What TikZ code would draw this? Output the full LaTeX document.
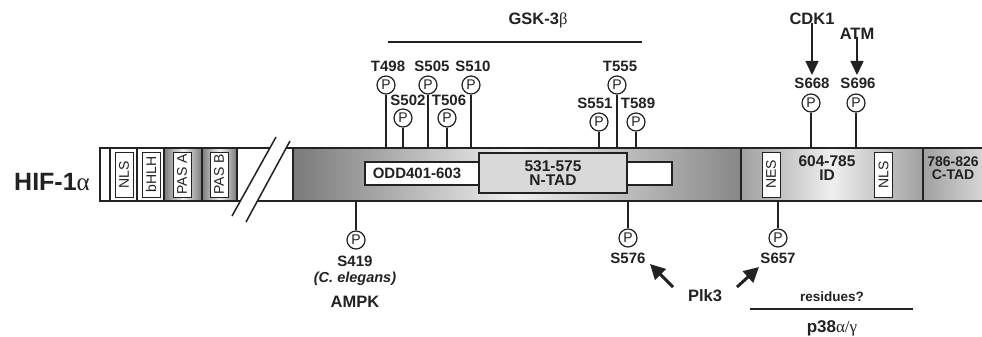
\documentclass[tikz,border=0pt]{standalone}
\usepackage{fontspec}
\setmainfont{Liberation Sans}
\newfontfamily\grk{Liberation Serif}
\usetikzlibrary{arrows.meta}
\definecolor{gdark}{HTML}{7A7A7A}
\definecolor{gmid}{HTML}{A0A0A0}
\definecolor{glight}{HTML}{EFEFEF}
\definecolor{ntad}{HTML}{D9D9D9}
\definecolor{ink}{HTML}{222222}
\tikzset{
  lbl/.style={font=\bfseries\fontsize{15}{15}\selectfont, inner sep=0pt, text=ink},
  kin/.style={font=\bfseries\fontsize{16.5}{17}\selectfont, inner sep=0pt, text=ink},
  pc/.style={circle, draw=ink, line width=1.2pt, minimum size=18pt, inner sep=0pt, font=\fontsize{14}{14}\selectfont, fill=white, text=ink},
  stem/.style={line width=1.5pt, draw=ink},
  barline/.style={line width=2pt, draw=ink},
  sep/.style={line width=1.8pt, draw=ink},
  vbox/.style={draw=ink, line width=0.8pt, fill=white, minimum width=18pt, minimum height=45pt, inner sep=0pt},
  vtxt/.style={font=\fontsize{14}{14}\selectfont, rotate=90, text=ink},
  kinarrow/.style={line width=1.5pt, draw=ink, -{Triangle[length=14pt,width=13pt]}},
  plkarrow/.style={line width=3pt, draw=ink, -{Triangle[length=15pt,width=15pt]}},
}
\begin{document}
\begin{tikzpicture}[x=1pt,y=-1pt]
\useasboundingbox (0,0) rectangle (982,337);
\clip (0,0) rectangle (982,337);
\fill[white] (0,0) rectangle (982,337);

% title
\node[font=\bfseries\fontsize{25}{25}\selectfont, inner sep=0pt, text=ink] (hif) at (52,182) {HIF-1{\grk\mdseries α}};

% left bar
\fill[white] (100,148) rectangle (293,201);
\shade[left color=gdark, right color=gdark, middle color=glight] (164,148) rectangle (202,201);
\shade[left color=gdark, right color=gdark, middle color=glight] (202,148) rectangle (237,201);
\foreach \xx in {110,137,164,202,237} \draw[sep] (\xx,148) -- (\xx,201);
\node[vbox] (nlsA) at (124,174.5) {};
\node[vtxt] (tnlsA) at (nlsA) {NLS};
\node[vbox] (bhlh) at (151,174.5) {};
\node[vtxt] (tbhlh) at (bhlh) {bHLH};
\node[vbox] (pasa) at (182,174.5) {};
\node[vtxt] (tpasa) at (pasa) {PAS A};
\node[vbox] (pasb) at (219,174.5) {};
\node[vtxt] (tpasb) at (pasb) {PAS B};
\draw[barline] (100,148) -- (293,148);
\draw[barline] (100,201) -- (293,201);
\draw[barline] (100,147) -- (100,202);
% break
\fill[white] (232,216) -- (276,137) -- (290,140) -- (246,221) -- cycle;
\draw[line width=1.5pt, draw=ink] (232,216) -- (276,137);
\draw[line width=1.5pt, draw=ink] (246,222) -- (290,141);

% main bar
\shade[left color=gdark, right color=gdark!90, middle color=glight] (293,148) rectangle (741,201);
\draw[barline] (293,148) rectangle (741,201);
\node[draw=ink, line width=1.3pt, fill=white, minimum width=307pt, minimum height=23pt, inner sep=0pt] (odd) at (518.5,173.5) {};
\node[lbl] (todd) at (417,173.5) {ODD401-603};
\node[draw=ink, line width=2.4pt, fill=ntad, minimum width=148pt, minimum height=40pt, inner sep=0pt, align=center, font=\bfseries\fontsize{15.5}{14}\selectfont, text=ink] (ntad) at (553,173) {531-575\\N-TAD};

% ID
\shade[left color=gmid, right color=gmid, middle color=glight] (741,148) rectangle (923,201);
\draw[barline] (741,148) rectangle (923,201);
\node[vbox] (nes) at (771,174.5) {};
\node[vtxt] (tnes) at (nes) {NES};
\node[vbox] (nlsB) at (883.5,174.5) {};
\node[vtxt] (tnlsB) at (nlsB) {NLS};
\node[align=center, font=\bfseries\fontsize{15.5}{14}\selectfont, text=ink, inner sep=0pt] (id) at (827,168) {604-785\\ID};

% C-TAD
\shade[left color=gmid, right color=glight] (923,148) rectangle (1010,201);
\draw[barline] (923,148) rectangle (1010,201);
\node[align=center, font=\bfseries\fontsize{14}{13.5}\selectfont, text=ink, inner sep=0pt] (ctad) at (953,168) {786-826\\C-TAD};

% phosphosites above
\foreach \nm/\cx/\cy/\lx/\ly in {T498/386/85/388/66, S505/428/85/432/66, S510/471/85/473/66, S502/403/118/408/100, T506/447/118/449/100, T555/617/85/620/66, S551/599/122/595/103, T589/636/122/638/103, S668/811/103/812/83, S696/856/103/858/83}{
  \node[lbl] (l\nm) at (\lx,\ly) {\nm};
  \node[pc] (c\nm) at (\cx,\cy) {P};
  \coordinate (b\nm) at (\cx,148);
  \draw[stem] (c\nm) -- (b\nm);
}
% phosphosites below
\foreach \nm/\cx/\cy/\lx/\ly in {S419/356/240/355/261, S576/628/238/628/258, S657/778/238/778/258}{
  \node[lbl] (l\nm) at (\lx,\ly) {\nm};
  \node[pc] (c\nm) at (\cx,\cy) {P};
  \coordinate (b\nm) at (\cx,201);
  \draw[stem] (c\nm) -- (b\nm);
}

% GSK-3beta
\node[kin] (gsk) at (538,20) {GSK-3{\grk\mdseries β}};
\coordinate (gskA) at (388,42);
\coordinate (gskB) at (642,42);
\draw[line width=2pt, draw=ink] (gskA) -- (gskB);

% CDK1, ATM
\node[kin] (cdk) at (812,19) {CDK1};
\node[kin] (atm) at (857,34) {ATM};
\coordinate (cdkT) at (812,75);
\coordinate (atmT) at (857,75);
\draw[kinarrow] (cdk.south) ++(0,-2) -- (cdkT);
\draw[kinarrow] (atm.south) ++(0,-3) -- (atmT);

% AMPK
\node[font=\bfseries\itshape\fontsize{14.5}{15}\selectfont, inner sep=0pt, text=ink] (cel) at (355,279) {(C. elegans)};
\node[kin] (ampk) at (355,302) {AMPK};

% Plk3
\node[kin] (plk) at (705,296) {Plk3};
\coordinate (plkA) at (673,287);
\coordinate (plkB) at (737,287);
\coordinate (tA) at (650,264);
\coordinate (tB) at (759,267);
\draw[plkarrow] (plkA) -- (tA);
\draw[plkarrow] (plkB) -- (tB);

% p38
\node[font=\bfseries\fontsize{13.5}{14}\selectfont, inner sep=0pt, text=ink] (res) at (832,297) {residues?};
\coordinate (pA) at (750,309);
\coordinate (pB) at (913,309);
\draw[line width=2pt, draw=ink] (pA) -- (pB);
\node[font=\bfseries\fontsize{17}{17}\selectfont, inner sep=0pt, text=ink] (p38) at (832,328) {p38{\grk\mdseries α/γ}};
\end{tikzpicture}
\end{document}
